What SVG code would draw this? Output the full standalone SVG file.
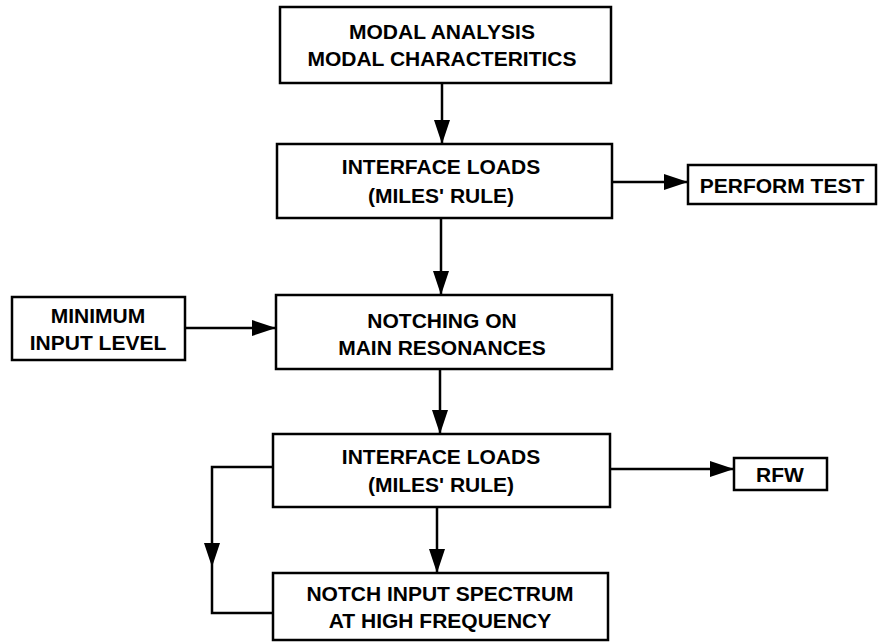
<svg xmlns="http://www.w3.org/2000/svg" width="886" height="643" viewBox="0 0 886 643">
<style>
.box{fill:#fff;stroke:#000;stroke-width:2.5}
.t{font-family:"Liberation Sans",Arial,sans-serif;font-weight:bold;font-size:21px;fill:#000;text-anchor:middle;dominant-baseline:central}
.c{fill:none;stroke:#000;stroke-width:2.5}
</style>
<defs>
<marker id="ah" markerUnits="userSpaceOnUse" markerWidth="26" markerHeight="18" refX="24" refY="8" orient="auto">
<path d="M0,0 L24,8 L0,16 z" fill="#000"/>
</marker>
</defs>
<rect width="886" height="643" fill="#fff"/>
<g id="connectors">
<line class="c" x1="442" y1="83" x2="442" y2="144" marker-end="url(#ah)"/>
<line class="c" x1="612" y1="182" x2="688" y2="182" marker-end="url(#ah)"/>
<line class="c" x1="441" y1="218" x2="441" y2="295" marker-end="url(#ah)"/>
<line class="c" x1="185" y1="328" x2="276" y2="328" marker-end="url(#ah)"/>
<line class="c" x1="440" y1="369" x2="440" y2="434" marker-end="url(#ah)"/>
<line class="c" x1="610" y1="469" x2="734" y2="469" marker-end="url(#ah)"/>
<line class="c" x1="437" y1="507" x2="437" y2="573" marker-end="url(#ah)"/>
<polyline class="c" points="273,467 212,467 212,613 273,613"/>
<path d="M204,543 L220,543 L212,567 z" fill="#000"/>
</g>
<g id="modal">
<rect class="box" x="280" y="7" width="331" height="76"/>
<text class="t" x="442" y="31">MODAL ANALYSIS</text>
<text class="t" x="442" y="58">MODAL CHARACTERITICS</text>
</g>
<g id="interface1">
<rect class="box" x="277" y="144" width="335" height="74"/>
<text class="t" x="441" y="166">INTERFACE LOADS</text>
<text class="t" x="441" y="195">(MILES' RULE)</text>
</g>
<g id="perform">
<rect class="box" x="688" y="165" width="188" height="39"/>
<text class="t" x="782" y="185">PERFORM TEST</text>
</g>
<g id="minimum">
<rect class="box" x="12" y="297" width="173" height="63"/>
<text class="t" x="98" y="315">MINIMUM</text>
<text class="t" x="98" y="342">INPUT LEVEL</text>
</g>
<g id="notching">
<rect class="box" x="276" y="295" width="336" height="74"/>
<text class="t" x="442" y="320">NOTCHING ON</text>
<text class="t" x="442" y="347">MAIN RESONANCES</text>
</g>
<g id="interface2">
<rect class="box" x="273" y="434" width="337" height="73"/>
<text class="t" x="441" y="456">INTERFACE LOADS</text>
<text class="t" x="441" y="484">(MILES' RULE)</text>
</g>
<g id="rfw">
<rect class="box" x="734" y="458" width="93" height="32"/>
<text class="t" x="780" y="474">RFW</text>
</g>
<g id="notch">
<rect class="box" x="273" y="573" width="335" height="67"/>
<text class="t" x="440" y="593">NOTCH INPUT SPECTRUM</text>
<text class="t" x="440" y="620">AT HIGH FREQUENCY</text>
</g>
</svg>
